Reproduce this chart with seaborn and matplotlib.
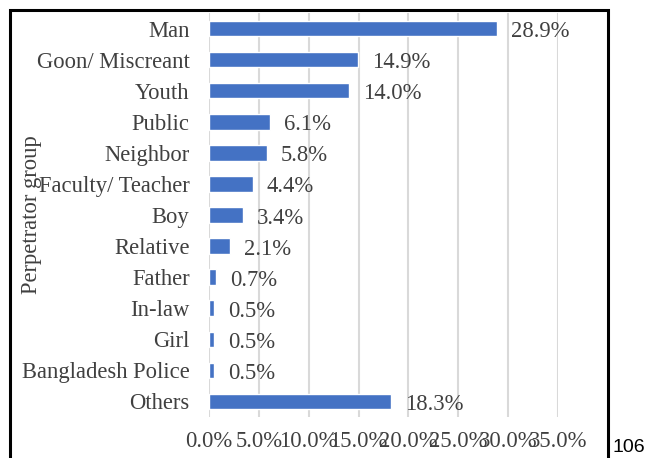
import matplotlib
matplotlib.use("Agg")
import matplotlib.pyplot as plt
import seaborn as sns
import pandas as pd
from matplotlib.patches import Rectangle
from matplotlib.ticker import FuncFormatter, MultipleLocator

groups = ["Man", "Goon/ Miscreant", "Youth", "Public", "Neighbor", "Faculty/ Teacher",
          "Boy", "Relative", "Father", "In-law", "Girl", "Bangladesh Police", "Others"]
shares = [28.9, 14.9, 14.0, 6.1, 5.8, 4.4, 3.4, 2.1, 0.7, 0.5, 0.5, 0.5, 18.3]
value_labels = ["28.9%", "14.9%", "14.0%", "6.1%", "5.8%", "4.4%", "3.4%", "2.1%",
                "0.7%", "0.5%", "0.5%", "0.5%", "18.3%"]

df = pd.DataFrame({"group": groups, "share": shares})

sns.set_style("white")
plt.rcParams["font.family"] = ["Liberation Serif", "DejaVu Serif"]
text_color = "#404040"
fs = 16.3

fig = plt.figure(figsize=(6.46, 4.58), dpi=100)
W, H = 646, 458
ax = fig.add_axes([209 / W, 1 - 417 / H, 349 / W, 404 / H])

sns.barplot(data=df, y="group", x="share", orient="h", color="#4472C4",
            saturation=1, width=0.5, ax=ax, zorder=3)

ax.set_xlim(0, 35)
ax.xaxis.set_major_locator(MultipleLocator(5))
ax.xaxis.set_major_formatter(FuncFormatter(lambda v, p: f"{v:.1f}%"))
ax.grid(axis="x", color="#D9D9D9", linewidth=1.5, zorder=0)
ax.grid(axis="y", visible=False)
ax.set_axisbelow(True)
for s in ax.spines.values():
    s.set_visible(False)

ax.tick_params(axis="both", length=0, labelsize=fs, labelcolor=text_color)
ax.tick_params(axis="y", pad=14)
ax.tick_params(axis="x", pad=10)

for i, (v, lab) in enumerate(zip(shares, value_labels)):
    ax.annotate(lab, xy=(v, i), xytext=(14, -3), textcoords="offset pixels",
                va="center", ha="left", fontsize=fs, color=text_color)

ax.set_xlabel("")
ax.set_ylabel("Perpetrator group", fontsize=fs, color=text_color)
ax.yaxis.set_label_coords((42 - 209) / 349, (417 - 215) / 404)

# outer frame
fig.patches.append(Rectangle((10 / W, -20 / H), (608 - 10) / W, (H - 10 + 20) / H,
                             transform=fig.transFigure, fill=False,
                             edgecolor="black", linewidth=2.2, zorder=10))

fig.text(612 / W, 1 - 447 / H, "106", fontsize=14, family=["Liberation Sans", "DejaVu Sans"],
         color="black", va="center", ha="left")

fig.savefig("out.png", dpi=100)
